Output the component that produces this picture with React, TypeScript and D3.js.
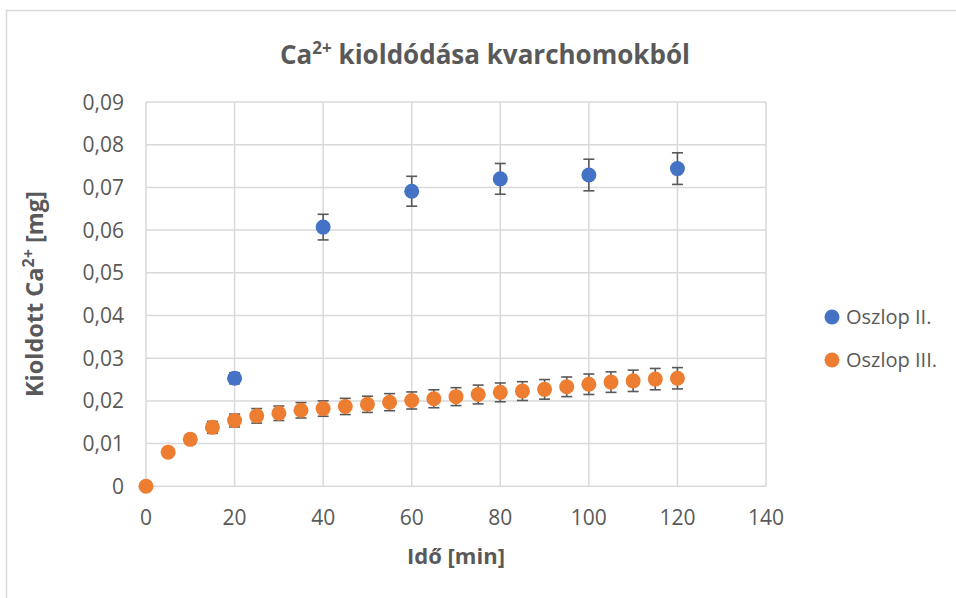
import React from "react";
import * as d3 from "d3";

const xTicks = [0, 20, 40, 60, 80, 100, 120, 140];
const yTicks = [0, 0.01, 0.02, 0.03, 0.04, 0.05, 0.06, 0.07, 0.08, 0.09];

const blueX = [20, 40, 60, 80, 100, 120];
const blueY = [0.0253, 0.0607, 0.0691, 0.072, 0.0729, 0.0744];
const blueErr = [0.0013, 0.003, 0.0035, 0.0036, 0.0037, 0.0037];

const orangeX = [0, 5, 10, 15, 20, 25, 30, 35, 40, 45, 50, 55, 60, 65, 70, 75, 80, 85, 90, 95, 100, 105, 110, 115, 120];
const orangeY = [0, 0.008, 0.011, 0.0138, 0.0154, 0.0165, 0.0171, 0.0178, 0.0182, 0.0187, 0.0192, 0.0197, 0.0201, 0.0205, 0.021, 0.0215, 0.022, 0.0223, 0.0227, 0.0233, 0.0239, 0.0244, 0.0247, 0.0251, 0.0253];
const orangeErr = [0, 0.0008, 0.0011, 0.0014, 0.0015, 0.0017, 0.0017, 0.0018, 0.0018, 0.0019, 0.0019, 0.002, 0.002, 0.0021, 0.0021, 0.0022, 0.0022, 0.0022, 0.0023, 0.0023, 0.0024, 0.0024, 0.0025, 0.0025, 0.0025];

const seriesNames = ["Oszlop II.", "Oszlop III."];
const colors = ["#4472C4", "#ED7D31"];

const W = 956, H = 598;
const FONT = "'Open Sans', sans-serif";
const TXT = "#595959";

export default function App() {
  const x = d3.scaleLinear().domain([0, 140]).range([146, 766]);
  const y = d3.scaleLinear().domain([0, 0.09]).range([486.3, 102]);
  const fmt = (v: number) => (v === 0 ? "0" : d3.format(".2f")(v).replace(".", ","));

  const series = [
    { xs: blueX, ys: blueY, es: blueErr, color: colors[0] },
    { xs: orangeX, ys: orangeY, es: orangeErr, color: colors[1] },
  ];
  const r = 7.5;
  const cap = 5.5;

  return (
    <svg width={W} height={H} style={{ position: "absolute", left: 0, top: 0, background: "#fff" }} fontFamily={FONT}>
      <rect x={6.5} y={10.5} width={W + 10} height={H + 10} fill="#fff" stroke="#d9d9d9" strokeWidth={1.5} />
      {/* gridlines */}
      {yTicks.map((t) => (
        <line key={"gy" + t} x1={x(0)} x2={x(140)} y1={y(t)} y2={y(t)} stroke="#d9d9d9" strokeWidth={1.5} />
      ))}
      {xTicks.map((t) => (
        <line key={"gx" + t} x1={x(t)} x2={x(t)} y1={y(0)} y2={y(0.09)} stroke="#d9d9d9" strokeWidth={1.5} />
      ))}
      {/* tick labels */}
      {yTicks.map((t) => (
        <text key={"ty" + t} x={124} y={y(t)} dy="0.36em" textAnchor="end" fontSize={21} fill={TXT}>
          {fmt(t)}
        </text>
      ))}
      {xTicks.map((t) => (
        <text key={"tx" + t} x={x(t)} y={525} textAnchor="middle" fontSize={21} fill={TXT}>
          {t}
        </text>
      ))}
      {/* error bars */}
      {series.map((s, si) =>
        s.xs.map((xv, i) => {
          const cx = x(xv);
          const y1 = y(s.ys[i] + s.es[i]);
          const y2 = y(s.ys[i] - s.es[i]);
          return (
            <g key={"e" + si + "-" + i} stroke="#595959" strokeWidth={1.6}>
              <line x1={cx} x2={cx} y1={y1} y2={y2} />
              <line x1={cx - cap} x2={cx + cap} y1={y1} y2={y1} />
              <line x1={cx - cap} x2={cx + cap} y1={y2} y2={y2} />
            </g>
          );
        })
      )}
      {/* markers */}
      {series.map((s, si) =>
        s.xs.map((xv, i) => (
          <circle key={"m" + si + "-" + i} cx={x(xv)} cy={y(s.ys[i])} r={r} fill={s.color} />
        ))
      )}
      {/* title */}
      <text x={485} y={64} textAnchor="middle" fontSize={26} fontWeight="bold" fill={TXT}>
        Ca<tspan fontSize={17} dy={-10}>2+</tspan>
        <tspan dy={10}> kioldódása kvarchomokból</tspan>
      </text>
      {/* axis titles */}
      <text
        transform={`translate(43, ${(y(0) + y(0.09)) / 2}) rotate(-90)`}
        textAnchor="middle"
        fontSize={23.5}
        fontWeight="bold"
        fill={TXT}
      >
        Kioldott Ca<tspan fontSize={16} dy={-9}>2+</tspan>
        <tspan dy={9}> [mg]</tspan>
      </text>
      <text x={456} y={564} textAnchor="middle" fontSize={22} fontWeight="bold" fill={TXT}>
        Idő [min]
      </text>
      {/* legend */}
      {seriesNames.map((n, i) => (
        <g key={n}>
          <circle cx={832} cy={317 + i * 43} r={r} fill={colors[i]} />
          <text x={846} y={317 + i * 43} dy="0.36em" fontSize={20} fill={TXT}>
            {n}
          </text>
        </g>
      ))}
    </svg>
  );
}
